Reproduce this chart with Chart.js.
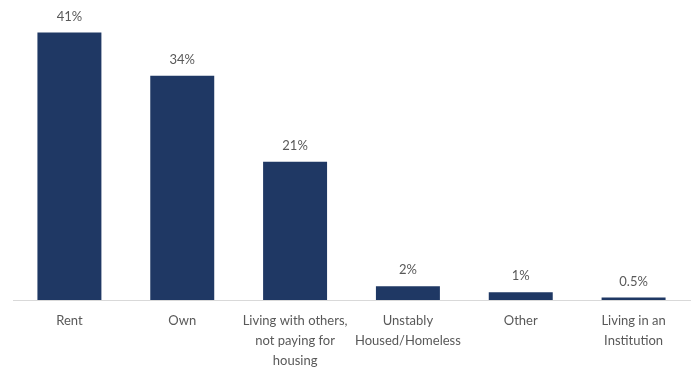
<!DOCTYPE html>
<html>
<head>
<meta charset="utf-8">
<script src="https://cdn.jsdelivr.net/npm/chart.js@4"></script>
<style>
html,body{margin:0;padding:0;background:#fff;}
#wrap{width:695px;height:368px;position:relative;}
</style>
</head>
<body>
<div id="wrap"><canvas id="c" width="695" height="368"></canvas></div>
<script>
const categories = [
  ['Rent'],
  ['Own'],
  ['Living with others,', 'not paying for', 'housing'],
  ['Unstably', 'Housed/Homeless'],
  ['Other'],
  ['Living in an', 'Institution']
];
const values = [41, 34.4, 21.2, 2.1, 1.2, 0.4];
const valueLabels = ['41%', '34%', '21%', '2%', '1%', '0.5%'];

const FONT = 'Lato, "Open Sans", sans-serif';
const TEXT = '#595959';

const barLabels = {
  id: 'barLabels',
  afterDatasetsDraw(chart) {
    const ctx = chart.ctx;
    const meta = chart.getDatasetMeta(0);
    ctx.save();
    ctx.font = '13px ' + FONT;
    ctx.fillStyle = TEXT;
    ctx.textAlign = 'center';
    ctx.textBaseline = 'middle';
    meta.data.forEach((bar, i) => {
      ctx.fillText(valueLabels[i], bar.x, bar.y - 16);
    });
    ctx.restore();
  }
};

new Chart(document.getElementById('c'), {
  type: 'bar',
  data: {
    labels: categories,
    datasets: [{
      data: values,
      backgroundColor: '#1F3864',
      borderWidth: 0,
      categoryPercentage: 1,
      barPercentage: 0.567
    }]
  },
  options: {
    responsive: false,
    animation: false,
    layout: { padding: { left: 13, right: 5, top: 0, bottom: 0 } },
    plugins: { legend: { display: false }, tooltip: { enabled: false } },
    scales: {
      x: {
        grid: { display: false, drawTicks: false },
        border: { display: true, color: '#d9d9d9', width: 1 },
        ticks: {
          color: TEXT,
          font: { family: FONT, size: 13, lineHeight: '20px' },
          padding: 11,
          maxRotation: 0,
          minRotation: 0,
          autoSkip: false
        },
        afterFit(s) { s.height = 68; }
      },
      y: {
        display: false,
        min: 0,
        max: 46
      }
    }
  },
  plugins: [barLabels]
});
</script>
</body>
</html>
